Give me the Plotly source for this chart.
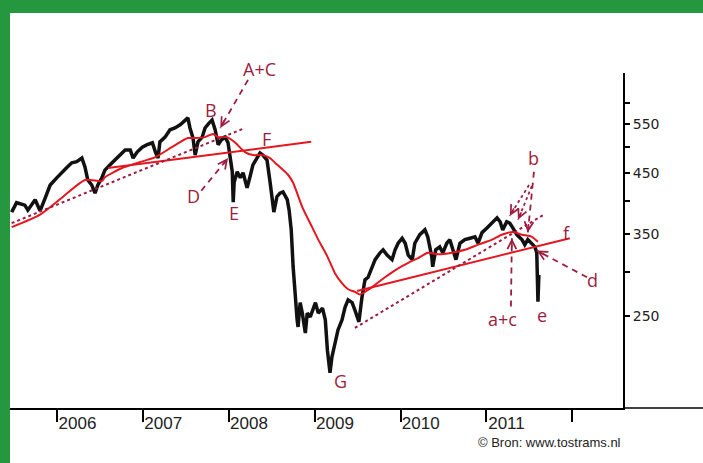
import math
import plotly.graph_objects as go

# ---------------- data ----------------
price_dates = [
    "2005-06-20", "2005-07-11", "2005-08-15", "2005-08-28", "2005-09-28", "2005-10-19", "2005-11-10", "2005-12-01",
    "2006-01-01", "2006-01-21", "2006-02-12", "2006-03-03", "2006-03-24", "2006-04-15", "2006-04-28", "2006-05-10",
    "2006-05-27", "2006-06-10", "2006-06-22", "2006-07-09", "2006-07-22", "2006-08-13", "2006-09-04", "2006-09-25",
    "2006-10-16", "2006-11-07", "2006-11-19", "2006-12-06", "2006-12-28", "2007-01-18", "2007-02-09", "2007-02-22",
    "2007-03-05", "2007-03-13", "2007-04-04", "2007-04-25", "2007-05-16", "2007-06-07", "2007-06-28", "2007-07-10",
    "2007-07-19", "2007-08-01", "2007-08-10", "2007-08-22", "2007-09-09", "2007-09-21", "2007-10-08", "2007-10-21",
    "2007-11-03", "2007-11-16", "2007-11-29", "2007-12-16", "2007-12-28", "2008-01-06", "2008-01-15", "2008-01-19",
    "2008-01-23", "2008-02-05", "2008-02-18", "2008-03-01", "2008-03-18", "2008-03-30", "2008-04-12", "2008-04-29",
    "2008-05-12", "2008-05-24", "2008-06-11", "2008-06-24", "2008-07-06", "2008-07-10", "2008-07-23", "2008-08-05",
    "2008-08-18", "2008-09-05", "2008-09-13", "2008-09-22", "2008-09-30", "2008-10-08", "2008-10-17", "2008-10-21",
    "2008-10-30", "2008-11-08", "2008-11-21", "2008-11-29", "2008-12-12", "2009-01-03", "2009-01-15", "2009-02-02",
    "2009-02-14", "2009-02-23", "2009-03-06", "2009-03-14", "2009-03-27", "2009-04-09", "2009-04-26", "2009-05-09",
    "2009-05-22", "2009-06-08", "2009-06-20", "2009-07-07", "2009-07-20", "2009-08-02", "2009-08-15", "2009-09-01",
    "2009-09-14", "2009-10-05", "2009-10-18", "2009-11-04", "2009-11-25", "2009-12-08", "2009-12-21", "2010-01-07",
    "2010-01-20", "2010-02-02", "2010-02-19", "2010-03-02", "2010-03-23", "2010-04-14", "2010-04-26", "2010-05-13",
    "2010-05-17", "2010-05-30", "2010-06-16", "2010-06-29", "2010-07-16", "2010-07-29", "2010-08-11", "2010-08-24",
    "2010-09-10", "2010-10-01", "2010-10-23", "2010-11-13", "2010-11-26", "2010-12-13", "2011-01-04", "2011-01-25",
    "2011-02-15", "2011-02-28", "2011-03-11", "2011-03-28", "2011-04-10", "2011-04-23", "2011-05-10", "2011-06-01",
    "2011-06-13", "2011-06-26", "2011-07-13", "2011-07-26", "2011-08-03", "2011-08-08", "2011-08-12",
]
price_values = [
    383, 398, 394, 386, 403, 385, 406, 428,
    442, 452, 461, 469, 471, 478, 461, 437,
    428, 414, 428, 441, 455, 465, 474, 484,
    494, 494, 478, 490, 500, 505, 509, 490,
    478, 511, 521, 537, 541, 548, 559, 564,
    541, 519, 484, 511, 521, 541, 552, 559,
    537, 505, 515, 521, 509, 484, 452, 399,
    433, 452, 441, 450, 423, 442, 465, 478,
    488, 484, 474, 433, 394, 383, 408, 414,
    416, 403, 386, 356, 306, 270, 246, 239,
    264, 253, 233, 253, 249, 264, 253, 258,
    246, 217, 198, 211, 224, 236, 246, 259,
    267, 264, 256, 244, 270, 290, 293, 306,
    315, 324, 328, 321, 315, 328, 337, 344,
    337, 321, 315, 337, 349, 356, 346, 319,
    306, 328, 332, 324, 337, 342, 328, 315,
    337, 342, 344, 346, 337, 352, 359, 366,
    374, 368, 356, 368, 366, 359, 349, 342,
    335, 342, 337, 332, 324, 265, 296,
]

ma_dates = [
    "2005-06-20", "2005-10-19", "2006-01-25", "2006-04-28", "2006-07-09", "2006-07-22", "2006-10-03", "2006-12-10",
    "2007-02-22", "2007-05-03", "2007-07-10", "2007-08-10", "2007-09-21", "2007-10-25", "2007-11-16", "2007-12-24",
    "2008-01-28", "2008-03-09", "2008-04-12", "2008-05-20", "2008-06-24", "2008-07-15", "2008-09-09", "2008-09-30",
    "2008-11-08", "2008-12-20", "2009-01-15", "2009-02-23", "2009-03-27", "2009-04-26", "2009-05-22", "2009-06-20",
    "2009-07-11", "2009-08-02", "2009-09-14", "2009-10-26", "2009-12-21", "2010-02-02", "2010-03-16", "2010-04-26",
    "2010-06-08", "2010-08-07", "2010-10-01", "2010-11-26", "2011-01-25", "2011-03-07", "2011-04-23", "2011-06-01",
    "2011-07-13", "2011-08-08",
]
ma_values = [
    360, 379, 408, 437, 435, 442, 459, 469,
    480, 500, 519, 519, 521, 528, 521, 521,
    509, 490, 484, 484, 478, 469, 446, 432,
    391, 360, 342, 319, 298, 286, 279, 276,
    273, 276, 284, 293, 304, 311, 317, 324,
    322, 324, 328, 335, 342, 349, 353, 349,
    346, 339,
]

# trend lines (start, end)
red_trend_1_dates = ["2006-08-04", "2008-12-16"]
red_trend_1_values = [459, 511]
red_trend_2_dates = ["2009-06-29", "2011-12-22"]
red_trend_2_values = [277, 344]
dotted_trend_1_dates = ["2005-06-20", "2008-03-09"]
dotted_trend_1_values = [366, 541]
dotted_trend_2_dates = ["2009-06-20", "2011-09-07"]
dotted_trend_2_values = [238, 380]

year_tick_dates = ["2006-01-01", "2007-01-01", "2008-01-01", "2009-01-01", "2010-01-01", "2011-01-01", "2012-01-01"]
year_tick_labels = ["2006", "2007", "2008", "2009", "2010", "2011", ""]
value_tick_vals = [250, 300, 350, 400, 450, 500, 550, 600]
value_tick_labels = ["250", "", "350", "", "450", "", "550", ""]

# ---------------- styles ----------------
BLACK = "#111111"
RED = "#e4161f"
MAROON = "#9c1d40"
GREEN = "#24973f"
LETTER_FONT = dict(family="Open Sans, Noto Sans, sans-serif", size=18, color=MAROON)

fig = go.Figure()

fig.add_trace(go.Scatter(x=price_dates, y=price_values, mode="lines",
                         line=dict(color=BLACK, width=3.5), hoverinfo="skip"))
fig.add_trace(go.Scatter(x=ma_dates, y=ma_values, mode="lines",
                         line=dict(color=RED, width=2, shape="spline", smoothing=0.6), hoverinfo="skip"))
for xs, ys in [(red_trend_1_dates, red_trend_1_values), (red_trend_2_dates, red_trend_2_values)]:
    fig.add_trace(go.Scatter(x=xs, y=ys, mode="lines", line=dict(color=RED, width=2), hoverinfo="skip"))
for xs, ys in [(dotted_trend_1_dates, dotted_trend_1_values), (dotted_trend_2_dates, dotted_trend_2_values)]:
    fig.add_trace(go.Scatter(x=xs, y=ys, mode="lines",
                             line=dict(color=MAROON, width=2, dash="3px,3px"), hoverinfo="skip"))

# arrows: (tail date, tail value, head date, head value, dash, head stub dx, dy)
arrows = [
    ("2008-03-22", 659, "2007-11-25", 541, "6px,5px", 5, -9),   # A+C
    ("2007-09-05", 418, "2007-12-28", 478, "6px,5px", -6, 8),   # D
    ("2011-07-01", 428, "2011-04-10", 377, "3px,3px", 5, -9),   # b (1)
    ("2011-07-13", 426, "2011-05-15", 371, "3px,3px", 4, -9),   # b (2)
    ("2011-07-22", 452, "2011-06-26", 352, "6px,5px", 1, -10),  # b (3)
    ("2011-04-15", 260, "2011-04-19", 344, "6px,5px", 0, 10),   # a+c
    ("2012-03-04", 293, "2011-08-03", 327, "6px,5px", 9, 5),    # d
]
for tx, tv, hx, hv, dash, dx, dy in arrows:
    fig.add_trace(go.Scatter(x=[tx, hx], y=[tv, hv], mode="lines",
                             line=dict(color=MAROON, width=1.8, dash=dash), hoverinfo="skip"))
    # annotations on a log axis take log10 positions
    fig.add_annotation(x=hx, y=math.log10(hv), ax=dx, ay=dy, text="", showarrow=True,
                       arrowhead=5, arrowsize=1.1, arrowwidth=1.6, arrowcolor=MAROON, standoff=0)

letters = [
    ("B", "2007-10-16", 583), ("F", "2008-06-07", 517), ("D", "2007-08-05", 409),
    ("E", "2008-01-23", 381), ("G", "2009-04-21", 191), ("b", "2011-07-22", 478),
    ("a+c", "2011-03-11", 247), ("e", "2011-08-25", 251), ("d", "2012-03-29", 290),
    ("f", "2011-12-09", 352),
]
for txt, xd, yv in letters:
    fig.add_annotation(x=xd, y=math.log10(yv), text=txt, showarrow=False, font=LETTER_FONT,
                       xanchor="center", yanchor="middle")

PLOT_L, PLOT_R, PLOT_T, PLOT_B, W, H = 10, 623, 73, 408, 703, 463
pw, ph = PLOT_R - PLOT_L, PLOT_B - PLOT_T

def px(xpix):
    return (xpix - PLOT_L) / pw

def py(ypix):
    return (PLOT_B - ypix) / ph

fig.add_annotation(x="2008-05-08", xref="x", y=py(69), yref="paper", text="A+C", showarrow=False,
                   font=LETTER_FONT, xanchor="center", yanchor="middle")

fig.add_annotation(x=1.0, xref="paper", y=py(442), yref="paper", text="© Bron: www.tostrams.nl",
                   showarrow=False, xanchor="right", yanchor="middle",
                   font=dict(family="Liberation Sans Narrow, Liberation Sans, Arial", size=13, color="#222222"))

# green frame
fig.add_shape(type="rect", xref="paper", yref="paper", x0=px(0), x1=px(W), y0=py(13), y1=py(0),
              fillcolor=GREEN, line=dict(width=0), layer="above")
fig.add_shape(type="rect", xref="paper", yref="paper", x0=px(0), x1=px(10), y0=py(H), y1=py(0),
              fillcolor=GREEN, line=dict(width=0), layer="above")
# x axis line continues to the right edge
fig.add_shape(type="line", xref="paper", yref="paper", x0=1.0, x1=px(W), y0=0, y1=0,
              line=dict(color="black", width=1.5), layer="above")

fig.update_layout(
    width=W, height=H,
    margin=dict(l=PLOT_L, r=W - PLOT_R, t=PLOT_T, b=H - PLOT_B),
    paper_bgcolor="white", plot_bgcolor="white", showlegend=False,
)
fig.update_xaxes(
    type="date", range=["2005-06-13", "2012-08-04"], showgrid=False, zeroline=False,
    showline=True, linecolor="black", linewidth=1.5,
    ticks="outside", ticklen=12, tickwidth=1.5, tickcolor="black",
    tickvals=year_tick_dates, ticktext=year_tick_labels, ticklabelshift=20, ticklabelstandoff=-13,
    tickfont=dict(family="Liberation Sans Narrow, Liberation Sans, Arial", size=17, color="#222222"),
)
fig.update_yaxes(
    type="log", range=[math.log10(171.3), math.log10(678)], side="right", showgrid=False, zeroline=False,
    showline=True, linecolor="black", linewidth=2,
    ticks="outside", ticklen=5, tickwidth=1.5, tickcolor="black",
    tickvals=value_tick_vals, ticktext=value_tick_labels,
    tickfont=dict(family="DejaVu Sans, sans-serif", size=14, color="#222222"),
)

fig.write_html(
    "out.html",
    config={"displayModeBar": False},
    post_script="document.body.style.margin='0';document.body.style.overflow='hidden';",
)
